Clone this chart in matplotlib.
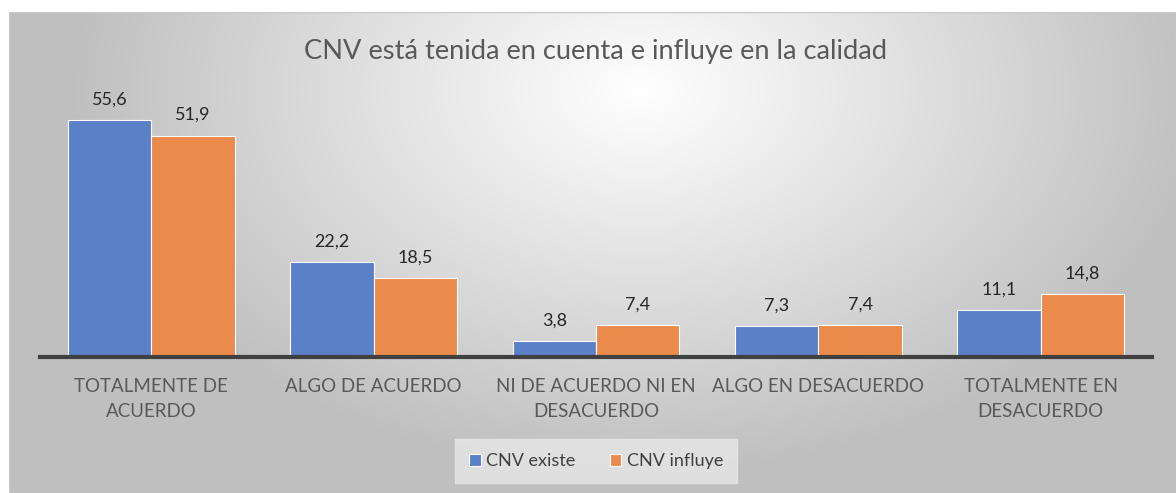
import numpy as np
import matplotlib
matplotlib.use("Agg")
import matplotlib.pyplot as plt
from matplotlib.patches import Rectangle

plt.rcParams['font.family'] = ['Lato', 'DejaVu Sans']

# --- DATA ---
categories = ["TOTALMENTE DE\nACUERDO", "ALGO DE ACUERDO", "NI DE ACUERDO NI EN\nDESACUERDO",
              "ALGO EN DESACUERDO", "TOTALMENTE EN\nDESACUERDO"]
existe = [55.6, 22.2, 3.8, 7.3, 11.1]
influye = [51.9, 18.5, 7.4, 7.4, 14.8]
series_names = ["CNV existe", "CNV influye"]
title = "CNV está tenida en cuenta e influye en la calidad"

W, H = 1176, 493
fig = plt.figure(figsize=(W / 100, H / 100), dpi=100)
fig.patch.set_facecolor("white")

# --- gradient background of chart area ---
x0, y0 = 9, 12  # chart area left / top in pixels
bg = fig.add_axes([x0 / W, 0, 1 - x0 / W, 1 - y0 / H])
bg.set_axis_off()
xx, yy = np.meshgrid(np.linspace(x0, W, 400), np.linspace(y0, H, 200))
r = np.sqrt(((xx - 640) / 800) ** 2 + ((yy - 90) / 540) ** 2)
g = np.clip(1.0 - 0.35 * r, 0.75, 1.0)
img = np.dstack([g, g, g])
bg.imshow(img, extent=[0, 1, 0, 1], aspect="auto", origin="upper")
bg.add_patch(Rectangle((0, 0), 1, 1, transform=bg.transAxes, fill=False,
                       edgecolor="#c8c8c8", linewidth=1.0))

# --- plot ---
left, right, bottom, top = 40, 1152, 357, 101
ax = fig.add_axes([left / W, 1 - bottom / H, (right - left) / W, (bottom - top) / H])
ax.patch.set_alpha(0)

x = np.arange(len(categories))
bw = 0.375
b1 = ax.bar(x - bw / 2, existe, bw, color="#5a80c8", edgecolor="white", linewidth=0.8,
            label=series_names[0], zorder=2)
b2 = ax.bar(x + bw / 2, influye, bw, color="#ea8b4b", edgecolor="white", linewidth=0.8,
            label=series_names[1], zorder=2)

for bars, vals in ((b1, existe), (b2, influye)):
    for rect, v in zip(bars, vals):
        ax.annotate(f"{v:.1f}".replace(".", ","),
                    (rect.get_x() + rect.get_width() / 2, rect.get_height()),
                    xytext=(0, 9), textcoords="offset points", ha="center", va="bottom",
                    fontsize=13, color="#262626")

ax.set_xlim(-0.5, len(categories) - 0.5)
ax.set_ylim(0, 60)
ax.set_yticks([])
ax.set_xticks(x)
ax.set_xticklabels(categories, fontsize=13.5, color="#595959", linespacing=1.6)
ax.tick_params(axis="x", length=0, pad=15)
for s in ("top", "right", "left"):
    ax.spines[s].set_visible(False)
ax.spines["bottom"].set_color("#404040")
ax.spines["bottom"].set_linewidth(3)
ax.spines["bottom"].set_zorder(3)

fig.text(596 / W, 1 - 52 / H, title, ha="center", va="center", fontsize=19.6, color="#595959")

leg = fig.legend(handles=[b1, b2], loc="center", bbox_to_anchor=(596 / W, 1 - 461 / H),
                 ncol=2, frameon=True, fontsize=13, handlelength=0.65, handleheight=0.65,
                 handletextpad=0.3, columnspacing=1.9, borderpad=0.75, borderaxespad=0,
                 fancybox=False)
leg.get_frame().set_facecolor("#e8e8e8")
leg.get_frame().set_edgecolor("#e8e8e8")
leg.get_frame().set_alpha(0.8)
for t in leg.get_texts():
    t.set_color("#404040")

fig.savefig("out.png", dpi=100)
